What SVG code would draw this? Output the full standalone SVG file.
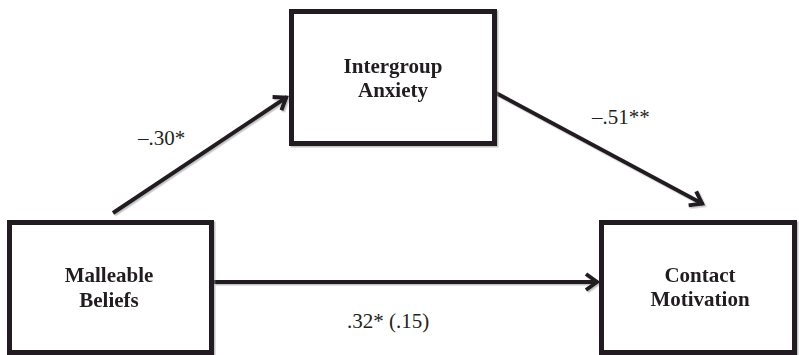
<svg xmlns="http://www.w3.org/2000/svg" width="799" height="355" viewBox="0 0 799 355">
  <style>
    .box { fill: #ffffff; stroke: #231f20; stroke-width: 5; }
    .lbl { font-family: "Liberation Serif", "Times New Roman", serif; font-weight: bold; font-size: 21px; fill: #231f20; text-anchor: middle; }
    .coef { font-family: "Liberation Serif", "Times New Roman", serif; font-size: 21px; fill: #231f20; }
    .conn { stroke: #231f20; stroke-width: 4; fill: none; }
  </style>
  <defs>
    <filter id="shadow" x="-10%" y="-10%" width="120%" height="120%">
      <feDropShadow dx="1.5" dy="1.5" stdDeviation="0.6" flood-color="#888888" flood-opacity="0.5"/>
    </filter>
    <marker id="arrow" viewBox="-20 -15 30 30" refX="0" refY="0" markerWidth="30" markerHeight="30" markerUnits="userSpaceOnUse" orient="auto">
      <path d="M-12,-8 L-1,0 L-12,8" fill="none" stroke="#231f20" stroke-width="4" stroke-linejoin="miter"/>
    </marker>
  </defs>
  <rect width="799" height="355" fill="#ffffff"/>

  <g id="connectors" filter="url(#shadow)">
    <line class="conn" x1="113" y1="213" x2="287" y2="97" marker-end="url(#arrow)"/>
    <line class="conn" x1="496" y1="93" x2="703" y2="204" marker-end="url(#arrow)"/>
    <line class="conn" x1="214" y1="282" x2="598" y2="282" marker-end="url(#arrow)"/>
  </g>

  <g id="node-intergroup-anxiety" filter="url(#shadow)">
    <rect class="box" x="291.5" y="11.5" width="203" height="132"/>
    <text class="lbl" x="393" y="73">Intergroup</text>
    <text class="lbl" x="393" y="97">Anxiety</text>
  </g>

  <g id="node-malleable-beliefs" filter="url(#shadow)">
    <rect class="box" x="9.5" y="222.5" width="202" height="130"/>
    <text class="lbl" x="109" y="282">Malleable</text>
    <text class="lbl" x="109" y="307">Beliefs</text>
  </g>

  <g id="node-contact-motivation" filter="url(#shadow)">
    <rect class="box" x="601.5" y="222.5" width="193" height="130"/>
    <text class="lbl" x="700" y="282">Contact</text>
    <text class="lbl" x="700" y="306">Motivation</text>
  </g>

  <g id="labels">
    <text class="coef" x="138" y="145">–.30*</text>
    <text class="coef" x="592" y="124">–.51**</text>
    <text class="coef" x="347" y="328">.32* (.15)</text>
  </g>
</svg>
